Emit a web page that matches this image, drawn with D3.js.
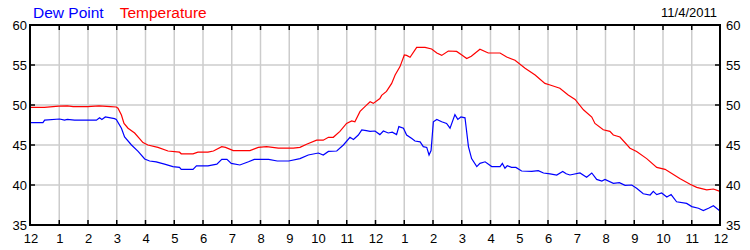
<!DOCTYPE html>
<html>
<head>
<meta charset="utf-8">
<script src="https://cdn.jsdelivr.net/npm/d3@7"></script>
<style>
  body { margin: 0; background: #fff; }
  svg { display: block; }
</style>
</head>
<body>
<svg width="750" height="250"></svg>
<script>
// data (hours since midnight, °F)
const tempHours = [0, 0.5, 1.0, 1.3, 1.5, 2.0, 2.4, 2.8, 3.0, 3.06, 3.18, 3.27, 3.41, 3.64, 3.93, 4.1, 4.45, 4.8, 5.2, 5.26, 5.67, 5.84, 6.19, 6.38, 6.67, 6.8, 7.07, 7.65, 7.94, 8.23, 8.64, 9.16, 9.39, 9.62, 9.97, 10.2, 10.38, 10.55, 10.78, 11.01, 11.19, 11.3, 11.48, 11.65, 11.83, 11.94, 12.17, 12.23, 12.4, 12.58, 12.7, 12.87, 13.02, 13.1, 13.22, 13.45, 13.74, 13.97, 14.15, 14.32, 14.55, 14.84, 15.02, 15.19, 15.35, 15.65, 15.94, 16.35, 16.58, 16.87, 17.22, 17.57, 17.91, 18.09, 18.43, 18.72, 18.96, 19.25, 19.54, 19.65, 19.94, 20.17, 20.29, 20.52, 20.87, 21.1, 21.45, 21.8, 22.09, 22.6, 22.96, 23.19, 23.54, 23.77, 24.0];
const tempValues = [49.7, 49.7, 49.85, 49.9, 49.8, 49.8, 49.9, 49.8, 49.75, 49.6, 48.75, 47.7, 47.1, 46.5, 45.3, 45.0, 44.7, 44.25, 44.1, 43.9, 43.9, 44.1, 44.1, 44.25, 44.8, 44.7, 44.3, 44.3, 44.7, 44.8, 44.6, 44.6, 44.7, 45.1, 45.6, 45.6, 45.96, 45.96, 46.7, 47.7, 48.0, 47.9, 49.2, 49.8, 50.4, 50.2, 50.8, 51.2, 51.7, 52.7, 53.75, 54.8, 56.25, 56.2, 55.96, 57.2, 57.2, 57.0, 56.5, 56.2, 56.75, 56.7, 56.25, 55.8, 56.1, 56.96, 56.5, 56.5, 56.0, 55.6, 54.6, 53.75, 52.7, 52.5, 52.1, 51.25, 50.7, 49.4, 48.5, 47.7, 46.9, 46.7, 46.25, 46.0, 44.6, 44.2, 43.3, 42.2, 41.96, 40.8, 40.1, 39.7, 39.4, 39.5, 39.2];

const dewHours = [0, 0.45, 0.51, 1.03, 1.2, 1.3, 1.55, 2.31, 2.42, 2.5, 2.62, 2.94, 3.0, 3.18, 3.29, 3.53, 3.76, 3.99, 4.16, 4.39, 4.68, 4.97, 5.2, 5.26, 5.67, 5.79, 6.19, 6.5, 6.67, 6.85, 7.0, 7.3, 7.6, 7.8, 8.3, 8.6, 9.0, 9.39, 9.68, 10.03, 10.2, 10.38, 10.67, 10.9, 11.13, 11.25, 11.42, 11.54, 11.7, 11.83, 12.0, 12.17, 12.29, 12.46, 12.6, 12.75, 12.83, 12.99, 13.1, 13.28, 13.39, 13.57, 13.68, 13.8, 13.88, 13.95, 14.03, 14.15, 14.32, 14.49, 14.61, 14.78, 14.88, 14.99, 15.13, 15.25, 15.36, 15.54, 15.65, 15.83, 16.06, 16.35, 16.43, 16.52, 16.6, 16.75, 16.9, 17.1, 17.45, 17.68, 17.86, 18.09, 18.32, 18.53, 18.65, 18.78, 19.13, 19.36, 19.54, 19.71, 19.89, 20.0, 20.29, 20.5, 20.7, 20.93, 21.1, 21.33, 21.57, 21.68, 21.8, 21.97, 22.15, 22.3, 22.49, 22.84, 23.02, 23.25, 23.42, 23.6, 23.77, 24.0];
const dewValues = [47.8, 47.8, 48.1, 48.25, 48.1, 48.2, 48.1, 48.1, 48.4, 48.2, 48.5, 48.3, 48.2, 47.1, 46.0, 45.0, 44.2, 43.25, 43.0, 42.9, 42.6, 42.3, 42.2, 41.96, 41.96, 42.4, 42.4, 42.6, 43.2, 43.2, 42.7, 42.5, 42.9, 43.2, 43.2, 43.0, 43.0, 43.3, 43.75, 44.0, 43.75, 44.2, 44.25, 45.0, 45.96, 45.7, 46.25, 46.9, 46.8, 46.7, 46.75, 46.3, 46.75, 46.5, 46.6, 46.3, 47.3, 47.1, 46.25, 45.8, 45.5, 45.4, 44.8, 44.7, 43.75, 44.3, 47.9, 48.2, 47.9, 47.7, 47.1, 48.8, 48.2, 48.5, 48.4, 44.8, 43.3, 42.3, 42.7, 42.9, 42.3, 42.3, 42.7, 42.1, 42.4, 42.2, 42.2, 41.75, 41.7, 41.8, 41.5, 41.4, 41.25, 41.7, 41.4, 41.25, 41.5, 40.96, 41.5, 40.7, 40.5, 40.7, 40.2, 40.3, 39.96, 40.0, 39.6, 38.9, 38.75, 39.2, 38.8, 39.0, 38.5, 38.8, 37.9, 37.7, 37.3, 37.1, 36.8, 37.1, 37.4, 36.75];

const xTickLabels = ["12", "1", "2", "3", "4", "5", "6", "7", "8", "9", "10", "11",
                     "12", "1", "2", "3", "4", "5", "6", "7", "8", "9", "10", "11", "12"];
const yTicks = [35, 40, 45, 50, 55, 60];
const seriesNames = ["Dew Point", "Temperature"];
const seriesColors = ["#0000ff", "#ff0000"];
const dateLabel = "11/4/2011";

const plotLeft = 30, plotRight = 720, plotTop = 25, plotBottom = 225;
const font = "'Liberation Sans', Arial, sans-serif";

const svg = d3.select("svg");

const x = d3.scaleLinear().domain([0, 24]).range([plotLeft, plotRight]);
const y = d3.scaleLinear().domain([35, 60]).range([plotBottom, plotTop]);

// grid
svg.append("g")
   .selectAll("line")
   .data(d3.range(1, 24))
   .join("line")
   .attr("x1", d => x(d) + 0.5).attr("x2", d => x(d) + 0.5)
   .attr("y1", plotTop).attr("y2", plotBottom)
   .attr("stroke", "#cccccc").attr("stroke-width", 1.5);

svg.append("g")
   .selectAll("line")
   .data(yTicks.slice(1, -1))
   .join("line")
   .attr("x1", plotLeft).attr("x2", plotRight)
   .attr("y1", d => y(d)).attr("y2", d => y(d))
   .attr("stroke", "#cccccc").attr("stroke-width", 1.5);

// inward tick marks
const tickG = svg.append("g").attr("stroke", "#000").attr("stroke-width", 1.5);
d3.range(1, 24).forEach(h => {
  tickG.append("line").attr("x1", x(h) + 0.5).attr("x2", x(h) + 0.5).attr("y1", plotTop).attr("y2", plotTop + 5);
  tickG.append("line").attr("x1", x(h) + 0.5).attr("x2", x(h) + 0.5).attr("y1", plotBottom).attr("y2", plotBottom - 5);
});
yTicks.slice(1, -1).forEach(v => {
  tickG.append("line").attr("x1", plotLeft).attr("x2", plotLeft + 5).attr("y1", y(v)).attr("y2", y(v));
  tickG.append("line").attr("x1", plotRight).attr("x2", plotRight - 5).attr("y1", y(v)).attr("y2", y(v));
});

// lines
const line = d3.line().x(d => x(d[0])).y(d => y(d[1]));
const series = [
  d3.zip(dewHours, dewValues),
  d3.zip(tempHours, tempValues)
];
series.forEach((s, i) => {
  svg.append("path")
     .datum(s)
     .attr("fill", "none")
     .attr("stroke", seriesColors[i])
     .attr("stroke-width", 1.2)
     .attr("d", line);
});

// frame
svg.append("rect")
   .attr("x", plotLeft).attr("y", plotTop)
   .attr("width", plotRight - plotLeft).attr("height", plotBottom - plotTop)
   .attr("fill", "none").attr("stroke", "#000").attr("stroke-width", 2);

// axis labels
svg.append("g")
   .selectAll("text")
   .data(xTickLabels)
   .join("text")
   .attr("x", (d, i) => x(i) + 1)
   .attr("y", 243)
   .attr("text-anchor", "middle")
   .style("font-family", font).style("font-size", "13px")
   .text(d => d);

[["end", plotLeft - 3], ["start", plotRight + 6]].forEach(([anchor, xp]) => {
  svg.append("g")
     .selectAll("text")
     .data(yTicks)
     .join("text")
     .attr("x", xp)
     .attr("y", d => y(d) + 5)
     .attr("text-anchor", anchor)
     .style("font-family", font).style("font-size", "13px")
     .text(d => d);
});

// legend and date
let lx = 33;
seriesNames.forEach((name, i) => {
  const t = svg.append("text")
     .attr("x", lx).attr("y", 18)
     .attr("fill", seriesColors[i])
     .style("font-family", font).style("font-size", "15.5px")
     .text(name);
  lx += t.node().getComputedTextLength() + 16;
});

svg.append("text")
   .attr("x", 717).attr("y", 17)
   .attr("text-anchor", "end")
   .style("font-family", font).style("font-size", "13px")
   .text(dateLabel);
</script>
</body>
</html>
